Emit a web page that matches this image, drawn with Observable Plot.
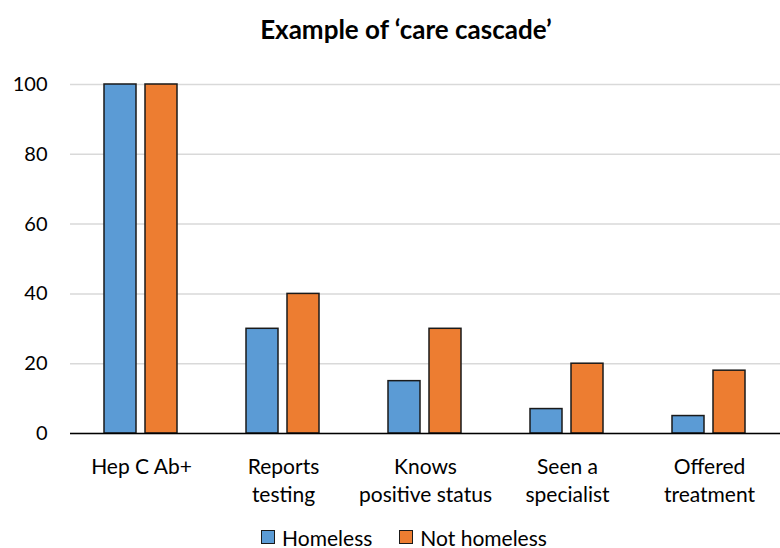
<!DOCTYPE html>
<html>
<head>
<meta charset="utf-8">
<script src="https://cdn.jsdelivr.net/npm/d3@7"></script>
<script src="https://cdn.jsdelivr.net/npm/@observablehq/plot@0.6"></script>
<style>
  html, body { margin: 0; padding: 0; background: #fff; }
  body { width: 780px; height: 548px; overflow: hidden; font-family: Lato, "Open Sans", sans-serif; color: #000; }
  #title { height: 60px; box-sizing: border-box; padding-left: 32px; text-align: center; font-weight: bold; font-size: 26px; line-height: 58px; }
  #legend { height: 28px; margin-top: 7px; display: flex; justify-content: center; align-items: center; gap: 27px; padding-left: 28px; font-size: 21px; }
  .item { display: flex; align-items: center; gap: 7px; }
  .sw { width: 12px; height: 12px; border: 1.5px solid #1a1a1a; }
</style>
</head>
<body>
<div id="title">Example of ‘care cascade’</div>
<div id="chart"></div>
<div id="legend"></div>
<script>
const categories = ["Hep C Ab+", "Reports\ntesting", "Knows\npositive status", "Seen a\nspecialist", "Offered\ntreatment"];
const series = ["Homeless", "Not homeless"];
const homeless = [100, 30, 15, 7, 5];
const notHomeless = [100, 40, 30, 20, 18];
const colors = ["#5B9BD5", "#ED7D31"];
const yTicks = [0, 20, 40, 60, 80, 100];

const data = categories.flatMap((c, i) => [
  {category: c, series: series[0], value: homeless[i]},
  {category: c, series: series[1], value: notHomeless[i]}
]);

const chart = Plot.plot({
  width: 780, height: 456,
  marginLeft: 69, marginRight: 0, marginTop: 24, marginBottom: 83,
  style: {fontFamily: "Lato, 'Open Sans', sans-serif", fontSize: "20px", color: "#000", background: "#fff"},
  fx: {domain: categories, padding: 0, label: null},
  x: {domain: series, paddingInner: 0.214, paddingOuter: 0.8, axis: null},
  y: {domain: [0, 100], label: null},
  color: {domain: series, range: colors},
  marks: [
    Plot.gridY(yTicks, {stroke: "#d9d9d9", strokeOpacity: 1, strokeWidth: 1.5}),
    Plot.barY(data, {fx: "category", x: "series", y: "value", fill: "series", stroke: "#1a1a1a", strokeWidth: 1.5}),
    Plot.ruleY([0], {stroke: "#000", strokeWidth: 1.5}),
    Plot.axisY(yTicks, {tickSize: 0, tickPadding: 23, fontSize: 20, label: null}),
    Plot.axisFx({anchor: "bottom", tickSize: 0, tickPadding: 20, fontSize: 21, lineHeight: 1.35, label: null})
  ]
});
document.getElementById("chart").appendChild(chart);

const legend = document.getElementById("legend");
series.forEach((s, i) => {
  const item = document.createElement("div");
  item.className = "item";
  const sw = document.createElement("div");
  sw.className = "sw";
  sw.style.background = colors[i];
  const t = document.createElement("span");
  t.textContent = s;
  item.appendChild(sw);
  item.appendChild(t);
  legend.appendChild(item);
});
</script>
</body>
</html>
